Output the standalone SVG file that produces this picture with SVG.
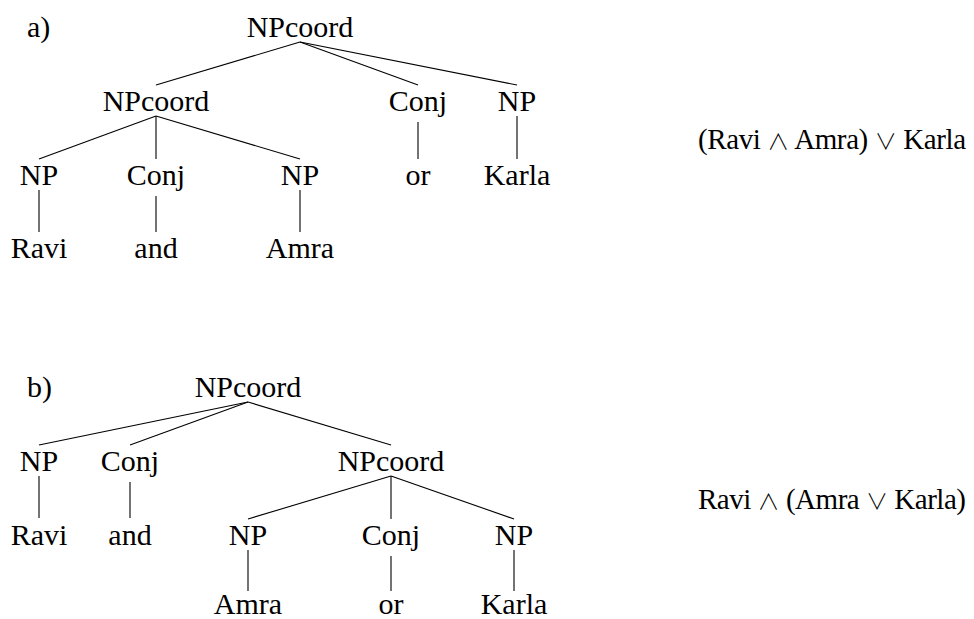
<svg xmlns="http://www.w3.org/2000/svg" width="974" height="619" viewBox="0 0 974 619">
<style>
.t text{font-size:30px;fill:#000;text-anchor:middle}
.t text.l{text-anchor:start}
.t text.f{font-size:29px}
.t .op{font-family:'Noto Sans CJK JP', 'DejaVu Sans', sans-serif;font-weight:300;font-size:22px}
.e line{stroke:#000;stroke-width:1.1}
</style>
<rect width="974" height="619" fill="#fff"/>
<g class="e" id="connectors">
<line x1="300" y1="42" x2="156" y2="85"/>
<line x1="300" y1="42" x2="418" y2="85"/>
<line x1="300" y1="42" x2="517" y2="85"/>
<line x1="156" y1="116" x2="39" y2="159"/>
<line x1="156" y1="116" x2="156" y2="159"/>
<line x1="156" y1="116" x2="300" y2="159"/>
<line x1="418" y1="122" x2="418" y2="159"/>
<line x1="517" y1="116" x2="517" y2="159"/>
<line x1="39" y1="190" x2="39" y2="232"/>
<line x1="156" y1="196" x2="156" y2="232"/>
<line x1="300" y1="190" x2="300" y2="232"/>
<line x1="248" y1="402" x2="39" y2="445"/>
<line x1="248" y1="402" x2="130" y2="445"/>
<line x1="248" y1="402" x2="391" y2="445"/>
<line x1="39" y1="476" x2="39" y2="518"/>
<line x1="130" y1="482" x2="130" y2="518"/>
<line x1="391" y1="476" x2="248" y2="519"/>
<line x1="391" y1="476" x2="391" y2="519"/>
<line x1="391" y1="476" x2="514" y2="519"/>
<line x1="248" y1="550" x2="248" y2="591"/>
<line x1="391" y1="556" x2="391" y2="591"/>
<line x1="514" y1="550" x2="514" y2="591"/>
</g>
<g class="t" font-family="'Liberation Serif', 'Times New Roman', 'DejaVu Serif', serif">
<g id="label-a"><text class="l" x="27" y="37">a)</text></g>
<g id="a-root"><text x="300" y="37">NPcoord</text></g>
<g id="a-npcoord"><text x="156" y="111">NPcoord</text></g>
<g id="a-conj-or"><text x="418" y="111">Conj</text></g>
<g id="a-np-karla"><text x="517" y="111">NP</text></g>
<g id="a-np-ravi"><text x="39" y="185">NP</text></g>
<g id="a-conj-and"><text x="156" y="185">Conj</text></g>
<g id="a-np-amra"><text x="300" y="185">NP</text></g>
<g id="a-or"><text x="418" y="185">or</text></g>
<g id="a-karla"><text x="517" y="185">Karla</text></g>
<g id="a-ravi"><text x="39" y="258">Ravi</text></g>
<g id="a-and"><text x="156" y="258">and</text></g>
<g id="a-amra"><text x="300" y="258">Amra</text></g>
<g id="a-formula"><text class="l f" x="698" y="149" textLength="268" lengthAdjust="spacing">(Ravi <tspan class="op">∧</tspan> Amra) <tspan class="op">∨</tspan> Karla</text></g>
<g id="label-b"><text class="l" x="27" y="397">b)</text></g>
<g id="b-root"><text x="248" y="397">NPcoord</text></g>
<g id="b-np-ravi"><text x="39" y="471">NP</text></g>
<g id="b-conj-and"><text x="130" y="471">Conj</text></g>
<g id="b-npcoord"><text x="391" y="471">NPcoord</text></g>
<g id="b-ravi"><text x="39" y="545">Ravi</text></g>
<g id="b-and"><text x="130" y="545">and</text></g>
<g id="b-np-amra"><text x="248" y="545">NP</text></g>
<g id="b-conj-or"><text x="391" y="545">Conj</text></g>
<g id="b-np-karla"><text x="514" y="545">NP</text></g>
<g id="b-amra"><text x="248" y="614">Amra</text></g>
<g id="b-or"><text x="391" y="614">or</text></g>
<g id="b-karla"><text x="514" y="614">Karla</text></g>
<g id="b-formula"><text class="l f" x="698" y="509" textLength="268" lengthAdjust="spacing">Ravi <tspan class="op">∧</tspan> (Amra <tspan class="op">∨</tspan> Karla)</text></g>
</g>
</svg>
